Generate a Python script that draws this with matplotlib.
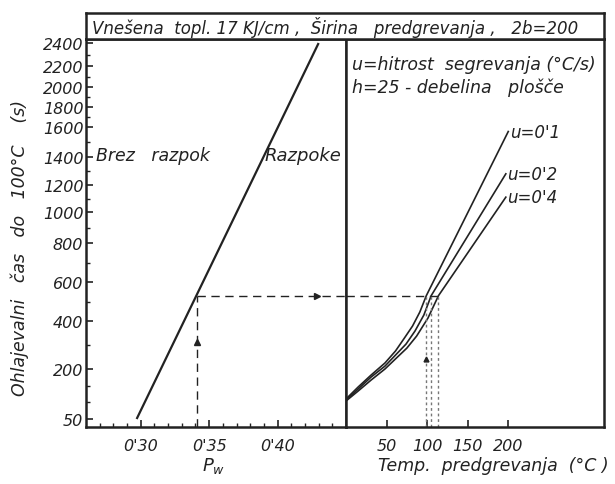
import numpy as np
import matplotlib
matplotlib.use("Agg")
import matplotlib.pyplot as plt

plt.rcParams['font.family'] = ['DejaVu Sans']
plt.rcParams['font.style'] = 'italic'
plt.rcParams['mathtext.fontset'] = 'custom'
plt.rcParams['mathtext.it'] = 'DejaVu Sans:italic'
plt.rcParams['mathtext.rm'] = 'DejaVu Sans:italic'

# ---------------- data ----------------
# y axis (cooling time to 100 C, s) tick values
y_ticks = [50, 200, 400, 600, 800, 1000, 1200, 1400, 1600, 1800, 2000, 2200, 2400]
y_minor = [100, 150, 300, 500, 700, 900, 1100, 1300, 1500, 1700, 1900, 2100, 2300]

# left panel: Pw ticks and boundary line
pw_ticks = [0.30, 0.35, 0.40]
pw_tick_labels = ["0'30", "0'35", "0'40"]
pw_line = [0.297, 0.430]
t_line = [50, 2400]
pw_read = 0.341
t_read = 530

# right panel: preheating temperature curves
temp_ticks = [50, 100, 150, 200]
u_labels = ["u=0'1", "u=0'2", "u=0'4"]
temp_u01 = [0, 15, 31, 48, 61, 72, 82, 91, 99, 200]
time_u01 = [110, 146, 182, 225, 275, 329, 379, 446, 530, 1570]
temp_u02 = [0, 15, 31, 48, 61, 74, 85, 96, 105, 197]
time_u02 = [107, 140, 176, 212, 258, 304, 358, 431, 530, 1280]
temp_u04 = [0, 15, 31, 48, 61, 75, 87, 101, 114, 197]
time_u04 = [104, 134, 167, 200, 242, 287, 337, 415, 530, 1110]
temp_read = [99, 105, 114]

# --------- axis scale calibration (nonuniform printed scale) ---------
_sv = np.array([-100, 50, 200, 400, 600, 800, 1000, 1200, 1400, 1600, 1800, 2000, 2200, 2400, 3000], float)
_sp = 470 - np.array([470, 420, 370, 322, 283, 244, 213, 186, 158, 128, 108, 88, 67, 44, -25], float)

def fwd(v):
    return np.interp(np.asarray(v, float), _sv, _sp)

def inv(p):
    return np.interp(np.asarray(p, float), _sp, _sv)

W, H = 615, 485
fig = plt.figure(figsize=(W / 100, H / 100), dpi=100)
ink = '#222222'

def fx(px):
    return px / W

def fy(py):
    return 1 - py / H

left_px, mid_px, right_px, top_px, bot_px, title_top = 86, 346, 604, 40, 428, 14
ax1 = fig.add_axes([fx(left_px), fy(bot_px), (mid_px - left_px) / W, (bot_px - top_px) / H])
ax2 = fig.add_axes([fx(mid_px), fy(bot_px), (right_px - mid_px) / W, (bot_px - top_px) / H])
axt = fig.add_axes([fx(left_px), fy(top_px), (right_px - left_px) / W, (top_px - title_top) / H])

for ax in (ax1, ax2):
    ax.set_yscale('function', functions=(fwd, inv))
    ax.set_ylim(26, 2435)
    for s in ax.spines.values():
        s.set_linewidth(1.8)
        s.set_color(ink)

# ---- left panel ----
ax1.set_xlim(0.26, 0.45)
ax1.set_xticks(pw_ticks)
ax1.set_xticklabels(pw_tick_labels)
ax1.set_xticks(np.round(np.arange(0.27, 0.45, 0.01), 2), minor=True)
ax1.set_yticks(y_ticks)
ax1.set_yticklabels([str(v) for v in y_ticks])
ax1.set_yticks(y_minor, minor=True)
ax1.tick_params(axis='both', which='both', direction='in', colors=ink, labelsize=11.5)
ax1.tick_params(axis='both', which='major', length=5, width=1.2)
ax1.tick_params(axis='both', which='minor', length=3, width=1.0)
ax1.tick_params(axis='y', pad=2)
ax1.tick_params(axis='x', pad=8)

ax1.plot(pw_line, t_line, color=ink, lw=1.6, solid_capstyle='butt')
ax1.plot([pw_read, 0.45], [t_read, t_read], color=ink, lw=1.0, ls=(0, (6, 4)))
ax1.plot([pw_read, pw_read], [26, t_read], color=ink, lw=1.0, ls=(0, (6, 4)))
ax1.plot([0.429], [t_read], marker='>', color=ink, ms=5, ls='none')
ax1.plot([pw_read], [312], marker='^', color=ink, ms=4, ls='none')

ax1.text(0.04, 0.70, "Brez   razpok", transform=ax1.transAxes, fontsize=12.5, color=ink, va='center')
ax1.text(0.685, 0.70, "Razpoke", transform=ax1.transAxes, fontsize=13, color=ink, va='center')

# ---- right panel ----
ax2.set_xlim(0, 318)
ax2.set_xticks(temp_ticks)
ax2.set_xticklabels([str(v) for v in temp_ticks])
ax2.set_yticks([])
ax2.set_yticks([], minor=True)
ax2.tick_params(axis='x', which='both', direction='in', colors=ink, labelsize=11.5, length=5, width=1.2, pad=8)

for tt, tm, lab in ((temp_u01, time_u01, u_labels[0]), (temp_u02, time_u02, u_labels[1]), (temp_u04, time_u04, u_labels[2])):
    ax2.plot(tt, tm, color=ink, lw=1.2)
    ax2.annotate(lab, (tt[-1], tm[-1]), xytext=(1, 0), textcoords='offset points',
                 fontsize=12, color=ink, va='center', ha='left')

ax2.plot([0, max(temp_read)], [t_read, t_read], color=ink, lw=1.0, ls=(0, (6, 4)))
for tr in temp_read:
    ax2.plot([tr, tr], [26, t_read], color='#777777', lw=1.0, ls=(0, (2, 2)))
ax2.plot([temp_read[0]], [240], marker='^', color=ink, ms=3.5, ls='none')

ax2.text(0.022, 0.935, "u=hitrost  segrevanja (°C/s)", transform=ax2.transAxes, fontsize=12.5, color=ink, va='center')
ax2.text(0.022, 0.878, "h=25 - debelina   plošče", transform=ax2.transAxes, fontsize=12.5, color=ink, va='center')

# ---- title box ----
axt.set_xticks([])
axt.set_yticks([])
for s in axt.spines.values():
    s.set_linewidth(1.8)
    s.set_color(ink)
axt.text(0.012, 0.48, "Vnešena  topl. 17 KJ/cm ,  Širina   predgrevanja ,   2b=200",
         transform=axt.transAxes, fontsize=12, color=ink, va='center', ha='left')

# ---- axis labels ----
fig.text(fx(20), fy(248), "Ohlajevalni   čas   do   100°C    (s)", rotation=90,
         fontsize=12.5, color=ink, ha='center', va='center')
fig.text(fx(214), fy(466), r"$P_w$", fontsize=13, color=ink, ha='center', va='center')
fig.text(fx(493), fy(466), "Temp.  predgrevanja  (°C )", fontsize=12.5, color=ink, ha='center', va='center')

fig.savefig("out.png", dpi=100, facecolor='white')
